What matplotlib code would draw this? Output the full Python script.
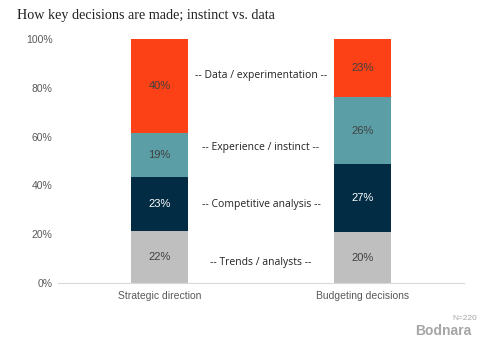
import numpy as np
import matplotlib
matplotlib.use("Agg")
from matplotlib import pyplot as plt

# data (labels as printed; bars are normalised to 100%)
categories = ["Strategic direction", "Budgeting decisions"]
segments = ["-- Trends / analysts --", "-- Competitive analysis --",
            "-- Experience / instinct --", "-- Data / experimentation --"]
trends = [22, 20]
competitive = [23, 27]
experience = [19, 26]
data_exp = [40, 23]

colors = ["#bfbfbf", "#022b44", "#5b9ea6", "#fc4116"]
label_colors = ["#404040", "white", "#404040", "#404040"]
segment_label_y = [8.6, 32, 55.7, 85]

plt.rcParams['font.family'] = ['Liberation Sans', 'DejaVu Sans']

fig = plt.figure(figsize=(4.86, 3.41), dpi=100)
ax = fig.add_axes([58 / 486, 58 / 341, 406 / 486, 244 / 341])

values = np.array([trends, competitive, experience, data_exp], dtype=float)
shares = values / values.sum(axis=0) * 100
x = np.arange(len(categories))
bottom = np.zeros(len(categories))
for i in range(len(segments)):
    ax.bar(x, shares[i], bottom=bottom, width=0.276, color=colors[i], zorder=2)
    for j in range(len(categories)):
        ax.text(x[j], bottom[j] + shares[i][j] / 2, f"{int(values[i][j])}%",
                ha='center', va='center', fontsize=8, color=label_colors[i])
    bottom += shares[i]

for name, yy in zip(segments, segment_label_y):
    ax.text(0.5, yy, name, ha='center', va='center', fontsize=7.5,
            color='#222222', family=['Open Sans', 'DejaVu Sans'])

ax.set_xlim(-0.5, 1.5)
ax.set_ylim(0, 100)
ax.set_yticks(range(0, 101, 20))
ax.set_yticklabels([f"{v}%" for v in range(0, 101, 20)])
ax.set_xticks(x)
ax.set_xticklabels(categories)
ax.tick_params(length=0, labelsize=7.5, labelcolor='#595959')
ax.tick_params(axis='y', pad=4)
ax.tick_params(axis='x', pad=6)
for s in ['top', 'right', 'left']:
    ax.spines[s].set_visible(False)
ax.spines['bottom'].set_color('#d9d9d9')

fig.text(17 / 486, 1 - 16 / 341, "How key decisions are made; instinct vs. data",
         fontsize=10.2, family=['Liberation Serif', 'DejaVu Serif'],
         color='#222222', va='center', ha='left')
fig.text(415 / 486, 1 - 331 / 341, "Bodnara", fontsize=10, fontweight='bold',
         color='#a6a6a6', va='center', ha='left')
fig.text(452 / 486, 1 - 318 / 341, "N=220", fontsize=6, color='#a6a6a6',
         va='center', ha='left')

fig.savefig("out.png", dpi=100)
